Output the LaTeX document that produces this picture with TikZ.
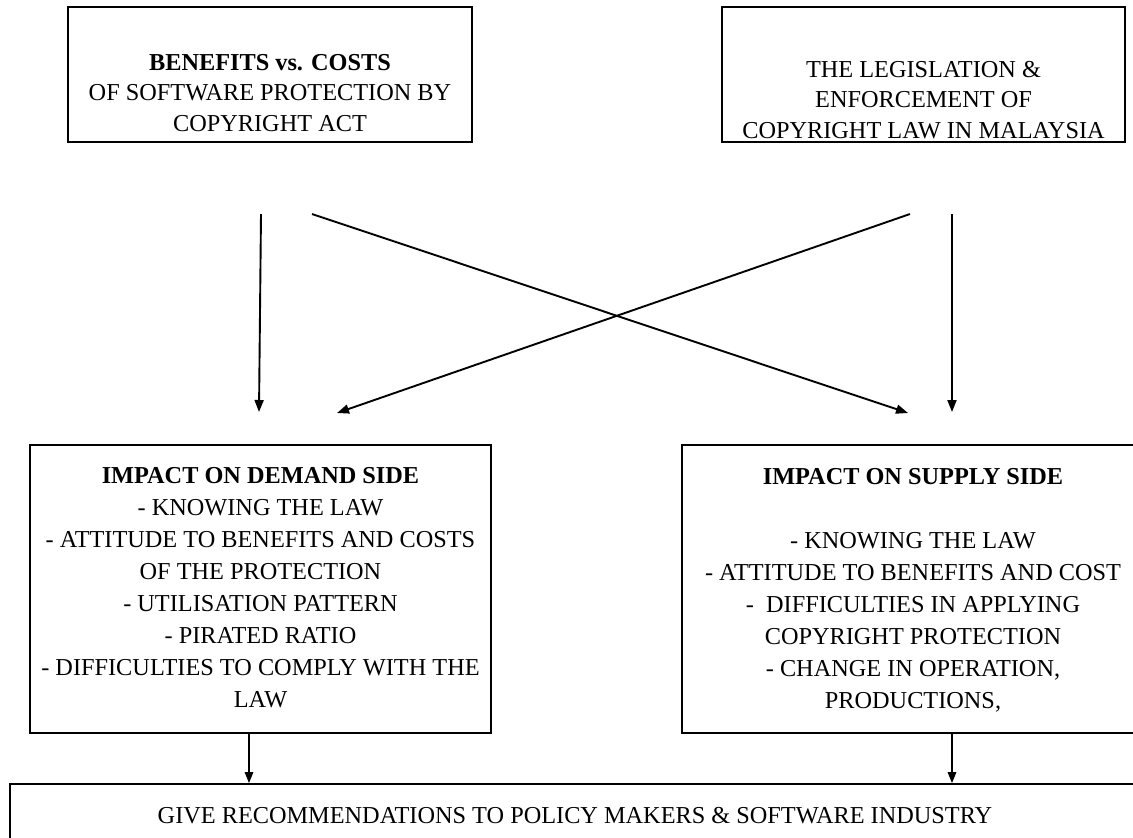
\documentclass[tikz,border=0pt]{standalone}
\usepackage{fontspec}
\setmainfont{Liberation Serif}
\usetikzlibrary{arrows.meta}
\begin{document}
\begin{tikzpicture}[x=1pt,y=-1pt,
  box/.style={draw,line width=1.8pt,inner sep=0pt},
  txt/.style={align=center,inner sep=0pt,anchor=north},
  topfont/.style={font=\fontsize{24.3}{30.5}\selectfont},
  midfont/.style={font=\fontsize{24.3}{32}\selectfont},
  arr/.style={line width=1.9pt,-{Triangle[length=12pt,width=9pt]}},
  thinarr/.style={line width=1.4pt,-{Triangle[length=11pt,width=8.5pt]}}]
\clip (0,0) rectangle (1133,838);
\fill[white] (0,0) rectangle (1133,838);
% top boxes
\node[box,minimum width=404pt,minimum height=135pt] (benefits) at (270,74.5) {};
\node[txt,topfont] (benefitsT) at (270,54) {\textbf{BENEFITS vs. COSTS}\\OF SOFTWARE PROTECTION BY\\COPYRIGHT ACT};
\node[box,minimum width=403pt,minimum height=135pt] (law) at (923.5,74.5) {};
\node[txt,topfont] (lawT) at (923.5,61) {THE LEGISLATION \&\\ENFORCEMENT OF\\COPYRIGHT LAW IN MALAYSIA};
% middle boxes
\node[box,minimum width=461pt,minimum height=288pt] (demand) at (260.5,589) {};
\node[txt,midfont] (demandT) at (260.5,467) {\textbf{IMPACT ON DEMAND SIDE}\\- KNOWING THE LAW\\- ATTITUDE TO BENEFITS AND COSTS\\OF THE PROTECTION\\- UTILISATION PATTERN\\- PIRATED RATIO\\- DIFFICULTIES TO COMPLY WITH THE\\LAW};
\node[box,minimum width=462pt,minimum height=288pt] (supply) at (913,589) {};
\node[txt,midfont] (supplyT) at (913,468) {\textbf{IMPACT ON SUPPLY SIDE}\\[32pt]- KNOWING THE LAW\\- ATTITUDE TO BENEFITS AND COST\\-\ \ DIFFICULTIES IN APPLYING\\COPYRIGHT PROTECTION\\- CHANGE IN OPERATION,\\PRODUCTIONS,};
% bottom box
\node[box,minimum width=1130pt,minimum height=100pt] (rec) at (575,834) {};
\node[txt,midfont] (recT) at (575,807) {GIVE RECOMMENDATIONS TO POLICY MAKERS \& SOFTWARE INDUSTRY};
% arrow end points
\coordinate (a1s) at (261,214); \coordinate (a1e) at (259,412);
\coordinate (a2s) at (312,214); \coordinate (a2e) at (908,413);
\coordinate (a3s) at (910,214); \coordinate (a3e) at (337,413);
\coordinate (a4s) at (952,214); \coordinate (a4e) at (952,412);
\draw[arr] (a1s) -- (a1e);
\draw[arr] (a2s) -- (a2e);
\draw[arr] (a3s) -- (a3e);
\draw[arr] (a4s) -- (a4e);
\draw[thinarr] (demand.south -| 249,0) -- (rec.north -| 249,0);
\draw[thinarr] (supply.south -| 952,0) -- (rec.north -| 952,0);
\end{tikzpicture}
\end{document}
